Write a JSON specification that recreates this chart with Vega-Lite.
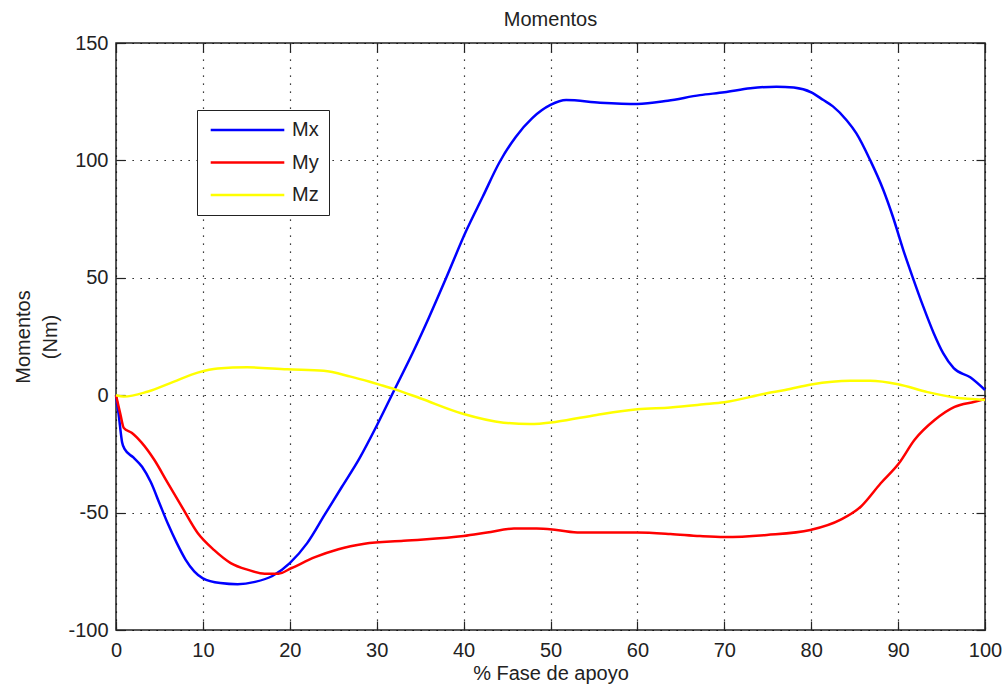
{
  "$schema": "https://vega.github.io/schema/vega-lite/v6.json",
  "width": 869,
  "height": 587,
  "autosize": "none",
  "padding": {"left": 116, "top": 43, "right": 19, "bottom": 59},
  "background": "white",
  "title": {"text": "Momentos", "font": "Liberation Sans", "fontSize": 20, "fontWeight": "normal", "color": "#222", "anchor": "middle", "frame": "group", "baseline": "alphabetic", "offset": 15, "dy": 28},
  "config": {"view": {"stroke": "#222", "strokeWidth": 1.5}, "font": "Liberation Sans"},
  "data": {"values": [
    {"s": "Mx", "x": 0, "y": 0}, {"s": "Mx", "x": 0.3, "y": -8}, {"s": "Mx", "x": 0.7, "y": -20}, {"s": "Mx", "x": 1, "y": -23}, {"s": "Mx", "x": 2, "y": -26.5}, {"s": "Mx", "x": 3, "y": -30.5}, {"s": "Mx", "x": 4, "y": -37}, {"s": "Mx", "x": 5, "y": -46}, {"s": "Mx", "x": 6, "y": -55}, {"s": "Mx", "x": 7, "y": -63}, {"s": "Mx", "x": 8, "y": -70}, {"s": "Mx", "x": 9, "y": -75}, {"s": "Mx", "x": 10, "y": -78}, {"s": "Mx", "x": 12, "y": -80}, {"s": "Mx", "x": 14, "y": -80.5}, {"s": "Mx", "x": 16, "y": -79.5}, {"s": "Mx", "x": 18, "y": -77}, {"s": "Mx", "x": 20, "y": -71.5}, {"s": "Mx", "x": 22, "y": -63}, {"s": "Mx", "x": 24, "y": -51}, {"s": "Mx", "x": 26, "y": -39}, {"s": "Mx", "x": 28, "y": -27}, {"s": "Mx", "x": 30, "y": -13}, {"s": "Mx", "x": 32, "y": 2}, {"s": "Mx", "x": 34.2, "y": 18.5}, {"s": "Mx", "x": 36, "y": 33}, {"s": "Mx", "x": 38, "y": 50}, {"s": "Mx", "x": 40.3, "y": 70}, {"s": "Mx", "x": 42.2, "y": 84.5}, {"s": "Mx", "x": 44.1, "y": 99}, {"s": "Mx", "x": 46, "y": 110}, {"s": "Mx", "x": 47.9, "y": 118}, {"s": "Mx", "x": 50, "y": 123.6}, {"s": "Mx", "x": 51.8, "y": 125.7}, {"s": "Mx", "x": 55.7, "y": 124.6}, {"s": "Mx", "x": 60, "y": 124}, {"s": "Mx", "x": 63.5, "y": 125.4}, {"s": "Mx", "x": 67.2, "y": 127.8}, {"s": "Mx", "x": 70, "y": 129}, {"s": "Mx", "x": 73, "y": 130.7}, {"s": "Mx", "x": 76, "y": 131.4}, {"s": "Mx", "x": 78, "y": 131}, {"s": "Mx", "x": 80, "y": 129}, {"s": "Mx", "x": 81.4, "y": 125.7}, {"s": "Mx", "x": 82.5, "y": 123}, {"s": "Mx", "x": 84.1, "y": 117}, {"s": "Mx", "x": 85.2, "y": 111.5}, {"s": "Mx", "x": 86.8, "y": 100}, {"s": "Mx", "x": 88.3, "y": 87.4}, {"s": "Mx", "x": 89.4, "y": 76}, {"s": "Mx", "x": 90.6, "y": 61.8}, {"s": "Mx", "x": 91.7, "y": 50}, {"s": "Mx", "x": 92.9, "y": 37.7}, {"s": "Mx", "x": 94.1, "y": 26.4}, {"s": "Mx", "x": 95.2, "y": 17.8}, {"s": "Mx", "x": 96.4, "y": 11.5}, {"s": "Mx", "x": 98.3, "y": 7.6}, {"s": "Mx", "x": 100, "y": 2.2},
    {"s": "My", "x": 0, "y": 0}, {"s": "My", "x": 0.5, "y": -8}, {"s": "My", "x": 0.9, "y": -14}, {"s": "My", "x": 1.8, "y": -16}, {"s": "My", "x": 2.9, "y": -20}, {"s": "My", "x": 4.4, "y": -27.5}, {"s": "My", "x": 5.9, "y": -37}, {"s": "My", "x": 7.5, "y": -47}, {"s": "My", "x": 9.4, "y": -58.7}, {"s": "My", "x": 11.3, "y": -66}, {"s": "My", "x": 13.2, "y": -71.5}, {"s": "My", "x": 15.2, "y": -74.4}, {"s": "My", "x": 17.1, "y": -76}, {"s": "My", "x": 18.7, "y": -76}, {"s": "My", "x": 20.2, "y": -73.6}, {"s": "My", "x": 22.9, "y": -69}, {"s": "My", "x": 25.6, "y": -65.6}, {"s": "My", "x": 28.6, "y": -63.3}, {"s": "My", "x": 33.1, "y": -62}, {"s": "My", "x": 40, "y": -60}, {"s": "My", "x": 42.7, "y": -58.5}, {"s": "My", "x": 45.8, "y": -56.8}, {"s": "My", "x": 48.4, "y": -56.8}, {"s": "My", "x": 50.7, "y": -57.4}, {"s": "My", "x": 53.4, "y": -58.5}, {"s": "My", "x": 60, "y": -58.5}, {"s": "My", "x": 63.8, "y": -59.1}, {"s": "My", "x": 67.2, "y": -60}, {"s": "My", "x": 70, "y": -60.4}, {"s": "My", "x": 74.9, "y": -59.5}, {"s": "My", "x": 79.9, "y": -57.4}, {"s": "My", "x": 83.4, "y": -53}, {"s": "My", "x": 85.7, "y": -47.5}, {"s": "My", "x": 88, "y": -37.5}, {"s": "My", "x": 90.1, "y": -29}, {"s": "My", "x": 91.9, "y": -19}, {"s": "My", "x": 94.2, "y": -10.6}, {"s": "My", "x": 96.5, "y": -5}, {"s": "My", "x": 98.8, "y": -2.8}, {"s": "My", "x": 100, "y": -1.6},
    {"s": "Mz", "x": 0, "y": 0}, {"s": "Mz", "x": 0.9, "y": -0.6}, {"s": "Mz", "x": 3.6, "y": 1.5}, {"s": "Mz", "x": 6.6, "y": 5.7}, {"s": "Mz", "x": 9.4, "y": 9.6}, {"s": "Mz", "x": 11.7, "y": 11.4}, {"s": "Mz", "x": 15.1, "y": 11.9}, {"s": "Mz", "x": 19.7, "y": 11}, {"s": "Mz", "x": 23.9, "y": 10.4}, {"s": "Mz", "x": 27, "y": 7.9}, {"s": "Mz", "x": 29.2, "y": 5.7}, {"s": "Mz", "x": 30.5, "y": 4.3}, {"s": "Mz", "x": 32.1, "y": 2.5}, {"s": "Mz", "x": 35, "y": -1.3}, {"s": "Mz", "x": 40, "y": -8}, {"s": "Mz", "x": 44.6, "y": -11.7}, {"s": "Mz", "x": 47.6, "y": -12.3}, {"s": "Mz", "x": 50.7, "y": -11.3}, {"s": "Mz", "x": 55.3, "y": -8.4}, {"s": "Mz", "x": 60, "y": -6}, {"s": "Mz", "x": 63.8, "y": -5.2}, {"s": "Mz", "x": 67.6, "y": -3.9}, {"s": "Mz", "x": 70, "y": -3}, {"s": "Mz", "x": 74.9, "y": 0.8}, {"s": "Mz", "x": 77, "y": 2.2}, {"s": "Mz", "x": 80, "y": 4.6}, {"s": "Mz", "x": 84.5, "y": 6.2}, {"s": "Mz", "x": 86.8, "y": 6.2}, {"s": "Mz", "x": 90, "y": 4.7}, {"s": "Mz", "x": 93.4, "y": 1.3}, {"s": "Mz", "x": 96.6, "y": -1}, {"s": "Mz", "x": 100, "y": -2}
  ]},
  "layer": [
    {
      "mark": {"type": "line", "strokeWidth": 2.5, "interpolate": "monotone"},
      "encoding": {
        "x": {"field": "x", "type": "quantitative", "scale": {"domain": [0, 100], "nice": false, "zero": false},
          "axis": {"orient": "bottom", "values": [0, 10, 20, 30, 40, 50, 60, 70, 80, 90, 100], "grid": true, "gridDash": [1.3, 6.7], "gridColor": "#000", "gridWidth": 1.2, "gridOpacity": 1, "domain": false, "tickSize": -9, "tickColor": "#222", "tickWidth": 1.2, "labelFont": "Liberation Sans", "labelFontSize": 20, "labelColor": "#222", "labelPadding": 19.5, "labelFlush": false, "labelExpr": "datum.value + ''", "title": "% Fase de apoyo", "titleFont": "Liberation Sans", "titleFontSize": 20, "titleFontWeight": "normal", "titleColor": "#222", "titlePadding": 3}},
        "y": {"field": "y", "type": "quantitative", "scale": {"domain": [-100, 150], "nice": false, "zero": false},
          "axis": {"orient": "left", "values": [-100, -50, 0, 50, 100, 150], "grid": true, "gridDash": [1.3, 6.7], "gridColor": "#000", "gridWidth": 1.2, "gridOpacity": 1, "domain": false, "tickSize": -9, "tickColor": "#222", "tickWidth": 1.2, "labelFont": "Liberation Sans", "labelFontSize": 20, "labelColor": "#222", "labelPadding": 17, "labelFlush": false, "labelExpr": "datum.value + ''", "title": ["Momentos", "(Nm)"], "titleFont": "Liberation Sans", "titleFontSize": 20, "titleFontWeight": "normal", "titleColor": "#222", "titlePadding": 7, "titleLineHeight": 27}},
        "color": {"field": "s", "type": "nominal", "scale": {"domain": ["Mx", "My", "Mz"], "range": ["#0000ff", "#ff0000", "#ffff00"]},
          "legend": {"orient": "none", "legendX": 81, "legendY": 67, "title": null, "symbolType": "M-1.26,0H13.46", "symbolSize": 100, "symbolStrokeWidth": 2.5, "labelFont": "Liberation Sans", "labelFontSize": 20, "labelColor": "#222", "labelOffset": 65, "padding": 10, "rowPadding": 12.5, "strokeColor": "#222", "fillColor": "white", "labelExpr": "datum.label + '  '"}}
      }
    },
    {
      "mark": {"type": "line", "strokeOpacity": 0},
      "encoding": {
        "detail": {"field": "s"},
        "x": {"field": "x", "type": "quantitative", "axis": {"orient": "top", "values": [0, 10, 20, 30, 40, 50, 60, 70, 80, 90, 100], "labels": false, "grid": false, "domain": false, "tickSize": -9, "tickColor": "#222", "tickWidth": 1.2, "title": null}},
        "y": {"field": "y", "type": "quantitative", "axis": {"orient": "right", "values": [-100, -50, 0, 50, 100, 150], "labels": false, "grid": false, "domain": false, "tickSize": -9, "tickColor": "#222", "tickWidth": 1.2, "title": null}}
      }
    }
  ],
  "resolve": {"axis": {"x": "independent", "y": "independent"}}
}
